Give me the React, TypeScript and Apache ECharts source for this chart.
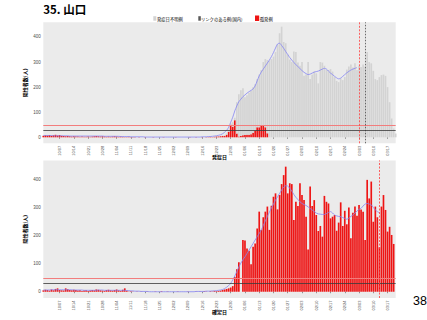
import React, { useEffect, useRef } from "react";
import * as echarts from "echarts";

// ---- categories: daily dates 2021-09-29 .. 2022-03-22 ----
const START_UTC = Date.UTC(2021, 8, 29);
const DAY_COUNT = 174;
const categories: string[] = [];
for (let k = 0; k < DAY_COUNT; k++) {
  const d = new Date(START_UTC + k * 86400000);
  categories.push(
    String(d.getUTCMonth() + 1).padStart(2, "0") + "/" + String(d.getUTCDate()).padStart(2, "0")
  );
}

const tickLabels = [
  "10/07", "10/14", "10/21", "10/28", "11/04", "11/11", "11/18", "11/25",
  "12/02", "12/09", "12/16", "12/23", "12/30", "01/06", "01/13", "01/20",
  "01/27", "02/03", "02/10", "02/17", "02/24", "03/03", "03/10", "03/17",
];

// ---- top panel (by onset date) ----
// 孤発例 from index 0
const onsetIsolated = [
  6, 8, 7, 9, 6, 8, 10, 7, 9, 6, 5, 4, 5, 4, 3, 4, 3, 3, 2, 3, 2, 2, 3, 2, 3, 4, 5, 4, 3, 4,
  3, 2, 3, 2, 3, 4, 3, 2, 3, 2, 1, 1, 2, 1, 1, 1,
  0, 1, 0, 0, 1, 0, 0, 0, 1, 0, 0, 0, 0, 1, 0, 0, 0, 0, 0, 1, 0, 0, 0, 0, 0, 0, 1, 0, 0, 1,
  0, 0, 1, 0, 1, 1, 2, 1, 2, 3, 3, 4, 5,
  5, 10, 22, 50, 42, 68, 15, 3, 5, 8, 9, 10, 10, 12, 18, 27, 40, 40, 48, 46, 40, 16,
];
// リンクのある例(国内): none visible
const onsetLinked: number[] = [];
// 発症日不明例, starting at index ONSET_UNKNOWN_START
const ONSET_UNKNOWN_START = 88;
const onsetUnknown = [
  2, 3, 5, 8, 5, 18, 10, 125, 169, 183, 188, 151, 158, 168, 174, 182, 185, 192, 210, 220, 254, 272, 292,
  305, 312, 322, 340, 370, 415, 441, 380, 375, 330, 310, 300, 342, 340, 298, 285, 300, 245, 250, 300,
  232, 250, 262, 255, 215, 300, 298, 285, 270, 268, 272, 262, 240, 225, 220, 235, 228, 240, 270, 282,
  290, 278, 295, 268, 285, 280, 290, 282, 340, 300, 295, 265, 232, 228, 240, 248, 250, 245, 200, 140,
  75, 35, 15,
];
const onsetTrend = [
  7, 7, 7, 7, 7, 6, 6, 6, 6, 6, 6, 6, 6, 5, 5, 5, 5, 5, 5, 5, 5, 5, 5, 5, 5, 5, 5, 5, 5, 5, 4, 4, 4, 4, 4, 4, 4, 4, 3, 3, 3,
  3, 3, 2, 2, 2, 2, 2, 2, 2, 1, 1, 1, 1, 1, 1, 1, 1, 1, 1, 1, 1, 1, 1, 1, 1, 1, 1, 1, 1, 1, 1, 1, 1, 1, 1, 1, 1, 2, 2, 2, 3, 3, 4, 5,
  6, 8, 10, 14, 20, 28, 40, 60, 80, 105, 125, 142, 152, 162, 169, 176, 182, 187, 193, 205,
  225, 245, 260, 272, 284, 296, 308, 322, 338, 356, 372, 375, 366, 355, 342, 330, 318, 308, 298, 290,
  282, 274, 266, 259, 254, 250, 252, 256, 260, 262, 264, 268, 272, 275, 272, 264, 256, 250, 243, 237,
  233, 236, 243, 250, 257, 263, 268, 272, 275, 278,
];

// ---- bottom panel (by confirmed date) ----
const confirmed = [
  5, 7, 6, 4, 8, 5, 10, 12, 6, 5, 4, 12, 9, 6, 5, 7, 6, 4, 5, 3, 4, 5, 3, 4, 6, 5, 8, 7, 5, 4, 3, 6, 7, 5, 4, 6, 8, 5, 3, 7, 12, 4,
  1, 2, 1, 0, 1, 0, 1, 0, 0, 1, 0, 0, 0, 1, 0, 0, 2, 0, 0, 1, 0, 0, 0, 0, 1, 0, 0, 0, 0, 1, 0, 0, 0, 1, 0, 1, 0, 2, 1, 0, 2, 1, 3, 2,
  3, 4, 6, 8, 10, 12, 15, 20, 53, 80, 105, 0,
  184, 182, 154, 146, 98, 160, 172, 225, 285, 220, 265, 285, 303, 220, 306, 338, 350, 293, 344, 383,
  415, 445, 350, 386, 383, 255, 320, 305, 386, 344, 326, 267, 150, 374, 305, 326,
  273, 216, 234, 196, 341, 320, 314, 261, 267, 273, 217, 246, 318, 234, 288, 240, 300, 190, 281, 303,
  270, 309, 293, 285, 184, 398, 332, 392, 249, 303, 265, 158, 303, 344, 291, 214, 231, 202, 170,
];
const confirmedTrend = [
  6, 6, 6, 6, 7, 7, 7, 7, 7, 7, 7, 7, 7, 7, 7, 6, 6, 6, 6, 6, 5, 5, 5, 5, 5, 5, 5, 6, 6, 6, 5, 5, 5, 5, 5, 5, 5, 5, 5, 5, 5, 4,
  4, 3, 3, 2, 2, 2, 1, 1, 1, 1, 0, 0, 0, 0, 0, 0, 0, 0, 0, 0, 0, 0, 0, 0, 0, 0, 0, 0, 0, 0, 0, 0, 0, 1, 1, 1, 1, 1, 2, 2, 2, 3, 3, 4,
  5, 6, 8, 11, 16, 22, 30, 42, 56, 72, 88, 102, 114, 124, 136, 148, 160, 172, 184, 196,
  207, 220, 236, 252, 268, 283, 298, 312, 326, 338, 350, 362, 372, 377, 376, 368, 358, 346, 336, 328,
  320, 314, 310, 307, 302, 296, 291, 285, 280, 277, 276, 275, 275, 278, 282, 285, 280, 273, 270, 268,
  267, 264, 261, 258, 262, 268, 273, 280, 287, 293, 297, 305, 312, 314, 312, 309, 300, 291, 285, 281,
];

// reference lines
const STAGE4_LINE = 47.9;
const STAGE3_LINE = 28.7;
const onsetVLineRed = 155;
const onsetVLineBlack = 158.3;
const confirmedVLineRed = 165.2;

const RED = "#EE1414";
const GREY_LIGHT = "#D3D3D3";
const GREY_DARK = "#595959";
const BLUE = "#8585F2";
const JP = "'Noto Sans CJK JP', sans-serif";

const tickSet = new Set(tickLabels);

function buildOption() {
  const onsetUnknownFull: (number | null)[] = [];
  for (let k = 0; k < ONSET_UNKNOWN_START; k++) onsetUnknownFull.push(null);
  onsetUnknown.forEach((v) => onsetUnknownFull.push(v));

  const xAxis = (gridIndex: number, name: string, nameGap: number) => ({
    type: "category",
    gridIndex,
    data: categories,
    boundaryGap: false,
    name,
    nameLocation: "middle",
    nameGap,
    nameMoveOverlap: false,
    nameTextStyle: { fontSize: 5, color: "#000", fontFamily: JP, fontWeight: "bold" },
    axisLine: { show: false },
    axisTick: {
      show: true,
      length: 1.5,
      interval: (_i: number, v: string) => tickSet.has(v),
      lineStyle: { color: "#333", width: 0.5 },
    },
    axisLabel: {
      rotate: 90,
      fontSize: 4,
      color: "#4D4D4D",
      margin: 2.5,
      fontFamily: "'Liberation Sans', sans-serif",
      interval: (_i: number, v: string) => tickSet.has(v),
    },
    splitLine: { show: false },
  });

  const yAxis = (gridIndex: number, min: number, max: number) => ({
    type: "value",
    gridIndex,
    min,
    max,
    minInterval: 100,
    maxInterval: 100,
    name: "陽性者数(人)",
    nameLocation: "middle",
    nameRotate: 90,
    nameGap: 16,
    nameMoveOverlap: false,
    nameTextStyle: { fontSize: 5, color: "#000", fontFamily: JP, fontWeight: "bold" },
    axisLine: { show: false },
    axisTick: { show: false },
    axisLabel: {
      fontSize: 4.5,
      color: "#4D4D4D",
      margin: 2.5,
      showMinLabel: false,
      showMaxLabel: false,
      fontFamily: "'Liberation Sans', sans-serif",
    },
    splitLine: { show: false },
  });

  const hLines = [
    { yAxis: STAGE4_LINE, lineStyle: { color: "#F27D7D", width: 1, type: "solid" } },
    { yAxis: STAGE3_LINE, lineStyle: { color: "#3A3A3A", width: 0.8, type: "solid" } },
  ];

  return {
    animation: false,
    backgroundColor: "#FFFFFF",
    grid: [
      { left: 43.3, right: 31.3, top: 22.3, height: 121, show: true, backgroundColor: "#EBEBEB", borderWidth: 0 },
      { left: 43.3, right: 31.3, top: 160.4, height: 137.6, show: true, backgroundColor: "#EBEBEB", borderWidth: 0 },
    ],
    xAxis: [xAxis(0, "発症日", 10.5), xAxis(1, "確定日", 11)],
    yAxis: [yAxis(0, -23.9, 458.5), yAxis(1, -22.3, 467.3)],
    graphic: [
      {
        type: "text",
        left: 43.3,
        top: 3.5,
        style: { text: "35. 山口", fontSize: 11.5, fontWeight: "bold", fill: "#000", fontFamily: JP },
      },
      {
        type: "text",
        x: 413,
        y: 300.5,
        style: { text: "38", fontSize: 12.5, fill: "#000", fontFamily: "'Liberation Sans', sans-serif", verticalAlign: "middle" },
      },
      { type: "rect", shape: { x: 153.3, y: 16.2, width: 3, height: 4.5 }, style: { fill: GREY_LIGHT } },
      {
        type: "text",
        x: 157,
        y: 18.5,
        style: { text: "発症日不明例", fontSize: 4.3, fill: "#000", fontFamily: JP, verticalAlign: "middle" },
      },
      { type: "rect", shape: { x: 198.3, y: 16.2, width: 2.5, height: 4.5 }, style: { fill: GREY_DARK } },
      {
        type: "text",
        x: 201,
        y: 18.5,
        style: { text: "リンクのある例(国内)", fontSize: 4.3, fill: "#000", fontFamily: JP, verticalAlign: "middle" },
      },
      { type: "rect", shape: { x: 255, y: 15.6, width: 4.2, height: 5.4 }, style: { fill: RED } },
      {
        type: "text",
        x: 259.8,
        y: 18.5,
        style: { text: "孤発例", fontSize: 4.3, fill: "#000", fontFamily: JP, verticalAlign: "middle" },
      },
    ],
    series: [
      {
        name: "孤発例",
        type: "bar",
        xAxisIndex: 0,
        yAxisIndex: 0,
        stack: "onset",
        data: onsetIsolated,
        barCategoryGap: "18%",
        itemStyle: { color: RED },
      },
      {
        name: "リンクのある例(国内)",
        type: "bar",
        xAxisIndex: 0,
        yAxisIndex: 0,
        stack: "onset",
        data: onsetLinked,
        barCategoryGap: "18%",
        itemStyle: { color: GREY_DARK },
      },
      {
        name: "発症日不明例",
        type: "bar",
        xAxisIndex: 0,
        yAxisIndex: 0,
        stack: "onset",
        data: onsetUnknownFull,
        barCategoryGap: "18%",
        itemStyle: { color: GREY_LIGHT },
      },
      {
        name: "発症日トレンド",
        type: "line",
        xAxisIndex: 0,
        yAxisIndex: 0,
        data: onsetTrend,
        smooth: 0.3,
        symbol: "none",
        showSymbol: false,
        z: 4,
        lineStyle: { color: BLUE, width: 0.8 },
        markLine: {
          silent: true,
          symbol: "none",
          label: { show: false },
          data: [
            ...hLines,
            { xAxis: onsetVLineRed, lineStyle: { color: "#FF3B3B", width: 0.8, type: [2, 1.5] } },
            { xAxis: onsetVLineBlack, lineStyle: { color: "#333", width: 0.7, type: [1.5, 1.5] } },
          ],
        },
      },
      {
        name: "確定日",
        type: "bar",
        xAxisIndex: 1,
        yAxisIndex: 1,
        data: confirmed,
        barCategoryGap: "18%",
        itemStyle: { color: RED },
      },
      {
        name: "確定日トレンド",
        type: "line",
        xAxisIndex: 1,
        yAxisIndex: 1,
        data: confirmedTrend,
        smooth: 0.3,
        symbol: "none",
        showSymbol: false,
        z: 4,
        lineStyle: { color: BLUE, width: 0.8 },
        markLine: {
          silent: true,
          symbol: "none",
          label: { show: false },
          data: [
            ...hLines,
            { xAxis: confirmedVLineRed, lineStyle: { color: "#FF3B3B", width: 0.8, type: [2, 1.5] } },
          ],
        },
      },
    ],
  };
}

export default function App() {
  const ref = useRef<HTMLDivElement>(null);
  useEffect(() => {
    if (!ref.current) return;
    const chart = echarts.init(ref.current, undefined, { renderer: "svg" });
    chart.setOption(buildOption() as any);
    return () => chart.dispose();
  }, []);
  return (
    <div
      ref={ref}
      style={{ position: "fixed", left: 0, top: 0, width: 427, height: 320, background: "#fff" }}
    />
  );
}
